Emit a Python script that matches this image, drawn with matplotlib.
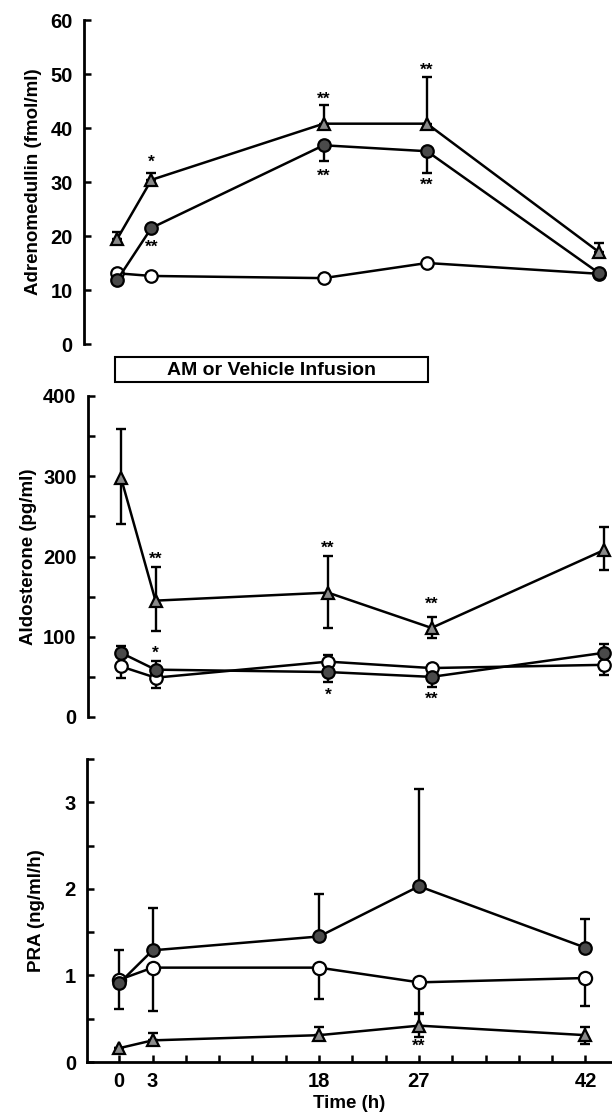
import numpy as np
import matplotlib
matplotlib.use("Agg")
import matplotlib.pyplot as plt
from matplotlib.patches import Rectangle
import matplotlib.transforms as mtransforms

plt.rcParams['font.family'] = ['Liberation Sans', 'DejaVu Sans']
plt.rcParams['font.weight'] = 'bold'

# ---- data ----
hours = [0, 3, 18, 27, 42]
infusion = (0, 27)

# Adrenomedullin (fmol/ml)
am_tri = [19.4, 30.4, 40.8, 40.8, 17.0]
am_tri_up = [1.4, 1.3, 3.5, 8.7, 1.7]
am_fill = [11.8, 21.5, 36.8, 35.7, 13.1]
am_fill_dn = [0, 0, 3.0, 4.0, 0]
am_open = [13.1, 12.6, 12.2, 15.0, 13.0]
am_stars = [('*', 3, 33.6), ('**', 18, 45.4), ('**', 27, 50.7),
            ('**', 3, 18.0), ('**', 18, 31.0), ('**', 27, 29.4)]

# Aldosterone (pg/ml)
al_tri = [298, 145, 155, 111, 208]
al_tri_up = [61, 42, 46, 14, 29]
al_tri_dn = [57, 38, 44, 13, 25]
al_fill = [80, 59, 56, 50, 80]
al_fill_up = [8, 11, 0, 0, 11]
al_fill_dn = [0, 0, 13, 12, 0]
al_open = [63, 49, 69, 61, 65]
al_open_up = [0, 0, 8, 0, 0]
al_open_dn = [14, 13, 0, 0, 13]
al_stars = [('**', 3, 196), ('**', 18, 210), ('**', 27, 140),
            ('*', 3, 80), ('*', 18, 27), ('**', 27, 22)]

# PRA (ng/ml/h)
pra_fill = [0.91, 1.29, 1.45, 2.03, 1.32]
pra_fill_up = [0.38, 0.49, 0.49, 1.12, 0.33]
pra_open = [0.95, 1.09, 1.09, 0.92, 0.97]
pra_open_dn = [0.34, 0.50, 0.36, 0.37, 0.32]
pra_tri = [0.16, 0.25, 0.31, 0.42, 0.31]
pra_tri_up = [0, 0.08, 0.10, 0.15, 0.10]
pra_tri_dn = [0, 0, 0, 0.13, 0.10]
pra_stars = [('**', 27, 0.18)]

W, H = 612, 1116
fig = plt.figure(figsize=(W / 100, H / 100), dpi=100)
fig.patch.set_facecolor('white')


def px_axes(left, top, right, bottom):
    return fig.add_axes([left / W, 1 - bottom / H, (right - left) / W, (bottom - top) / H])


def series(ax, y, up, dn, marker, fc, ms):
    up = np.zeros(len(y)) if up is None else np.asarray(up, float)
    dn = np.zeros(len(y)) if dn is None else np.asarray(dn, float)
    ax.errorbar(hours, y, yerr=[dn, up], fmt='none', ecolor='black',
                elinewidth=1.7, capsize=3.3, capthick=1.7, zorder=2)
    ax.plot(hours, y, color='black', lw=1.8, marker=marker, ms=ms,
            mfc=fc, mec='black', mew=1.6, zorder=3)


def style(ax):
    for s in ['top', 'right']:
        ax.spines[s].set_visible(False)
    ax.spines['left'].set_linewidth(2.0)
    ax.tick_params(axis='y', direction='in', length=5, width=1.8, pad=8,
                   labelsize=14.5)
    ax.set_facecolor('none')


def stars(ax, items):
    for txt, x, y in items:
        ax.text(x, y, txt, ha='center', va='center', fontsize=12.5,
                fontweight='bold', zorder=4)


TRI_FC = '#8a8a8a'
FILL_FC = '#4a4a4a'
LABEL_FS = 13.5

# ---- panel 1 ----
ax1 = px_axes(117 - 2.9 * 11.48, 20, 117 + 43.0 * 11.48, 344)
style(ax1)
ax1.spines['bottom'].set_visible(False)
ax1.set_xlim(-2.9, 43.0)
ax1.set_ylim(0, 60)
ax1.set_xticks([])
ax1.set_yticks(np.arange(0, 61, 10))
series(ax1, am_open, None, None, 'o', 'white', 9)
series(ax1, am_fill, None, am_fill_dn, 'o', FILL_FC, 9)
series(ax1, am_tri, am_tri_up, None, '^', TRI_FC, 9)
stars(ax1, am_stars)
ax1.set_ylabel('Adrenomedullin (fmol/ml)', fontsize=LABEL_FS, fontweight='bold',
               labelpad=6)

# infusion bar
trans = mtransforms.blended_transform_factory(ax1.transData, fig.transFigure)
ax1.add_patch(Rectangle((infusion[0] - 0.17, 1 - 382 / H),
                        infusion[1] - infusion[0] + 0.27, 25 / H,
                        transform=trans, fill=False, lw=1.5,
                        edgecolor='black', clip_on=False))
ax1.text((infusion[0] + infusion[1]) / 2, 1 - 370 / H, 'AM or Vehicle Infusion',
         transform=trans, ha='center', va='center', fontsize=14,
         fontweight='bold')

# ---- panel 2 ----
ax2 = px_axes(121 - 2.9 * 11.5, 396, 121 + 42.6 * 11.5, 717)
style(ax2)
ax2.spines['bottom'].set_visible(False)
ax2.set_xlim(-2.9, 42.6)
ax2.set_ylim(0, 400)
ax2.set_xticks([])
ax2.set_yticks(np.arange(0, 401, 50))
ax2.set_yticklabels([str(v) if v % 100 == 0 else '' for v in range(0, 401, 50)])
series(ax2, al_open, al_open_up, al_open_dn, 'o', 'white', 9)
series(ax2, al_fill, al_fill_up, al_fill_dn, 'o', FILL_FC, 9)
series(ax2, al_tri, al_tri_up, al_tri_dn, '^', TRI_FC, 9)
stars(ax2, al_stars)
ax2.set_ylabel('Aldosterone (pg/ml)', fontsize=LABEL_FS, fontweight='bold',
               labelpad=4)

# ---- panel 3 ----
ax3 = px_axes(119.3 - 2.9 * 11.1, 759, 119.3 + 44.3 * 11.1, 1062)
style(ax3)
ax3.spines['bottom'].set_linewidth(2.0)
ax3.set_xlim(-2.9, 44.3)
ax3.set_ylim(0, 3.5)
ax3.set_yticks(np.arange(0, 3.51, 0.5))
ax3.set_yticklabels(['0', '', '1', '', '2', '', '3', ''])
ax3.set_xticks(np.arange(0, 43, 3))
ax3.set_xticklabels([str(h) if h in hours else '' for h in range(0, 43, 3)])
ax3.tick_params(axis='x', direction='in', length=5, width=1.8, pad=7,
                labelsize=14.5)
series(ax3, pra_open, None, pra_open_dn, 'o', 'white', 9.5)
series(ax3, pra_fill, pra_fill_up, None, 'o', FILL_FC, 9)
series(ax3, pra_tri, pra_tri_up, pra_tri_dn, '^', TRI_FC, 8.5)
stars(ax3, pra_stars)
ax3.set_ylabel('PRA (ng/ml/h)', fontsize=LABEL_FS, fontweight='bold', labelpad=14)
ax3.set_xlabel('Time (h)', fontsize=LABEL_FS, fontweight='bold', labelpad=3)

fig.savefig('out.png', dpi=100, facecolor='white')
